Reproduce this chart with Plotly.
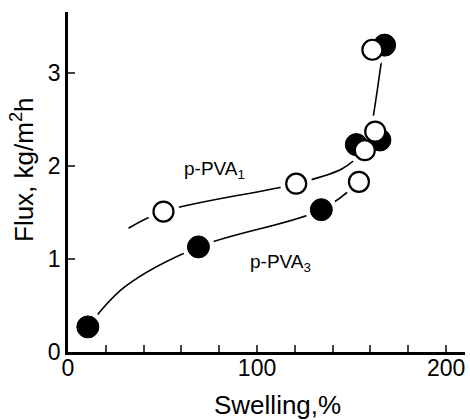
import plotly.graph_objects as go

# p-PVA1 (open circles)
pva1_swelling = [50.5, 120.7, 153.9, 157.0, 162.5, 161.0]
pva1_flux = [1.51, 1.81, 1.83, 2.17, 2.37, 3.25]
# p-PVA3 (filled circles)
pva3_swelling = [10.5, 69.0, 134.0, 152.5, 165.0, 167.5]
pva3_flux = [0.27, 1.13, 1.53, 2.23, 2.28, 3.30]

# hand-drawn guide curves (anchor points)
curve1_x = [32.0, 50.5, 120.7, 145.0, 157.0]
curve1_y = [1.33, 1.51, 1.81, 1.97, 2.17]
curve3_x = [10.5, 30.0, 69.0, 134.0, 154.0]
curve3_y = [0.27, 0.70, 1.13, 1.53, 1.83]
curve_top_x = [160.5, 163.5, 167.0]
curve_top_y = [2.40, 2.80, 3.30]

x_ticks = [0, 100, 200]
y_ticks = [0, 1, 2, 3]

FONT = "Liberation Sans"
L, R, T, B = 68, 5, 12, 68
W, H = 470, 420
pw, ph = W - L - R, H - T - B

fig = go.Figure()

line = dict(color="black", width=1.6, shape="spline")
fig.add_trace(go.Scatter(x=curve1_x, y=curve1_y, mode="lines", line=line, hoverinfo="skip"))
fig.add_trace(go.Scatter(x=curve3_x, y=curve3_y, mode="lines", line=line, hoverinfo="skip"))
fig.add_trace(go.Scatter(x=curve_top_x, y=curve_top_y, mode="lines", line=line, hoverinfo="skip"))

# white halos to make gaps around markers
fig.add_trace(go.Scatter(x=pva1_swelling + pva3_swelling, y=pva1_flux + pva3_flux, mode="markers",
                         marker=dict(size=32, color="white", line=dict(width=0)), hoverinfo="skip"))

fig.add_trace(go.Scatter(x=pva3_swelling, y=pva3_flux, mode="markers", name="p-PVA3",
                         marker=dict(size=22, color="black", line=dict(color="black", width=1))))
fig.add_trace(go.Scatter(x=pva1_swelling, y=pva1_flux, mode="markers", name="p-PVA1",
                         marker=dict(size=20, color="white", line=dict(color="black", width=2.2))))

fig.update_layout(
    width=W, height=H,
    margin=dict(l=L, r=R, t=T, b=B),
    paper_bgcolor="white", plot_bgcolor="white",
    showlegend=False,
    font=dict(family=FONT, color="black", size=19),
    xaxis=dict(range=[0, 210], tickmode="array", tickvals=x_ticks, ticks="inside", ticklen=7,
               tickwidth=1.5, showgrid=False, zeroline=False, showline=True, linewidth=2.5,
               linecolor="black", tickfont=dict(size=23, family=FONT), ticklabelstandoff=-6,
               minor=dict(ticks="inside", ticklen=7, tickwidth=1.5, dtick=20, tick0=0, showgrid=False)),
    yaxis=dict(range=[0, 3.656], tickmode="array", tickvals=y_ticks, ticks="inside", ticklen=7,
               tickwidth=1.5, showgrid=False, zeroline=False, showline=True, linewidth=2.5,
               linecolor="black", tickfont=dict(size=23, family=FONT)),
    annotations=[
        dict(x=77.5, y=1.96, xref="x", yref="y", text="p-PVA<sub>1</sub>", showarrow=False,
             font=dict(size=19, family=FONT)),
        dict(x=112.5, y=0.96, xref="x", yref="y", text="p-PVA<sub>3</sub>", showarrow=False,
             font=dict(size=19, family=FONT)),
        dict(x=(277.5 - L) / pw, y=(H - B - 405) / ph, xref="paper", yref="paper",
             text="Swelling,%", showarrow=False, xanchor="center", yanchor="middle",
             font=dict(size=26, family=FONT)),
        dict(x=(22 - L) / pw, y=(H - B - 170) / ph, xref="paper", yref="paper",
             text="Flux, kg/m<sup>2</sup>h", showarrow=False, textangle=-90,
             xanchor="center", yanchor="middle",
             font=dict(size=26, family=FONT)),
    ],
)

fig.write_html("out.html")
